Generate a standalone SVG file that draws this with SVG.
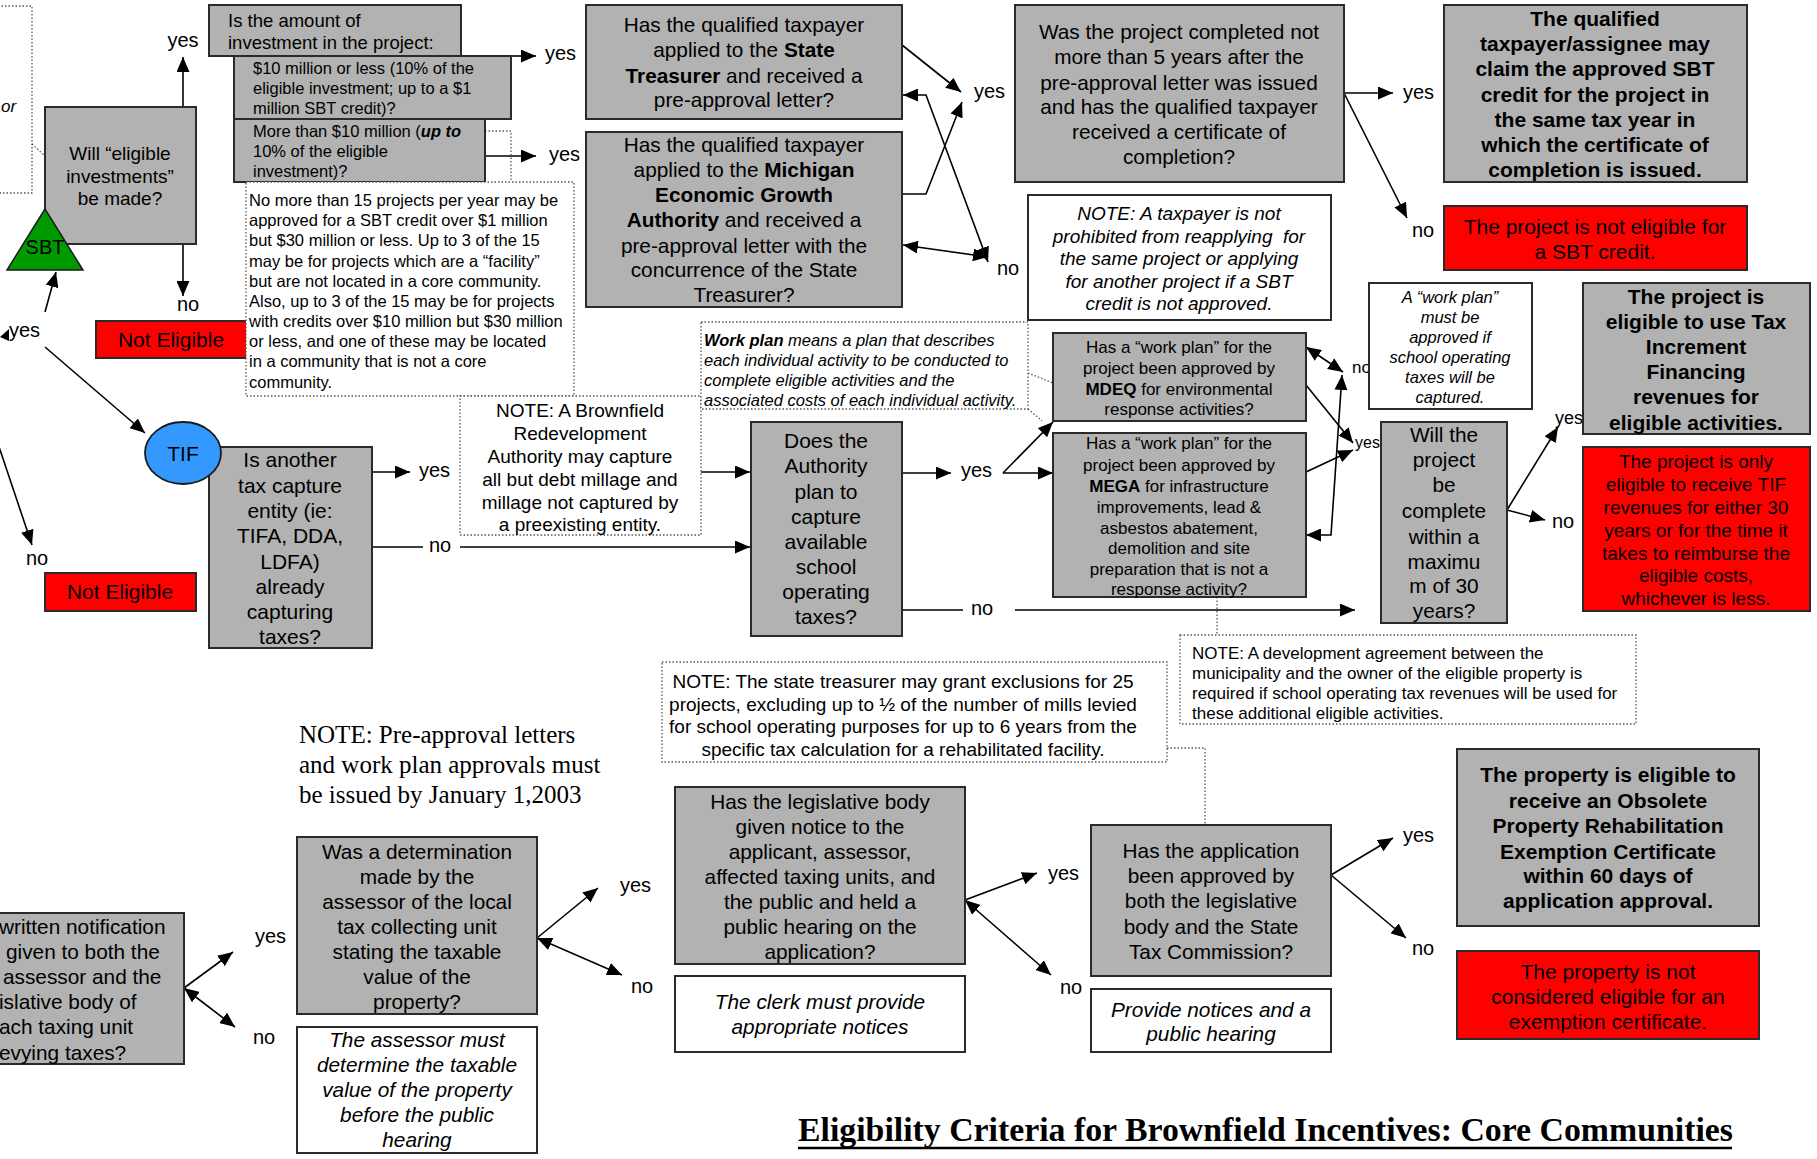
<svg xmlns="http://www.w3.org/2000/svg" width="1817" height="1159" viewBox="0 0 1817 1159">
<style>
.box{fill:#b2b2b2;stroke:#2a2a2a;stroke-width:2}
.red{fill:#ff0000;stroke:#2a2a2a;stroke-width:2}
.wb{fill:#ffffff;stroke:#2a2a2a;stroke-width:2}
.note{fill:#ffffff;stroke:#555;stroke-width:1.3;stroke-dasharray:1.5 2}
.dl{fill:none;stroke:#555;stroke-width:1.3;stroke-dasharray:1.5 2}
.ln{fill:none;stroke:#000;stroke-width:1.6}
.a{marker-end:url(#ah)}
.aa{marker-start:url(#ah);marker-end:url(#ah)}
text{font-family:"Liberation Sans",Arial,Helvetica,sans-serif;fill:#000}
.c{text-anchor:middle}
.i{font-style:italic}
.b{font-weight:bold}
.lbl{font-size:20px}
.f17{font-size:17px}
.f165{font-size:16.5px}
.f19{font-size:19px}
.f21{font-size:21px}
.f208{font-size:20.8px}
.serif{font-family:"Liberation Serif","Times New Roman",serif}
</style>
<defs>
<marker id="ah" markerWidth="15" markerHeight="13" refX="15" refY="6.5" orient="auto-start-reverse" markerUnits="userSpaceOnUse"><path d="M0,0 L15,6.5 L0,13 z" fill="#000"/></marker>
</defs>

<g id="connectors">
<line class="ln a" x1="183" y1="107" x2="183" y2="57"/>
<line class="ln a" x1="183" y1="243" x2="183" y2="296"/>
<line class="ln a" x1="45" y1="312" x2="56" y2="272"/>
<line class="ln a" x1="45" y1="347" x2="145" y2="433"/>
<line class="ln a" x1="-10" y1="420" x2="32" y2="545"/>
<polygon points="0,337 9,329 9,341" fill="#000"/>
<line class="ln a" x1="511" y1="56" x2="536" y2="56"/>
<line class="ln a" x1="485" y1="156" x2="536" y2="156"/>
<line class="ln a" x1="902" y1="45" x2="961" y2="92"/>
<polyline class="ln a" points="902,194 926,194 962,102"/>
<polyline class="ln aa" points="903,95 926,95 988,262"/>
<line class="ln aa" x1="903" y1="245" x2="988" y2="257"/>
<line class="ln a" x1="1344" y1="93" x2="1393" y2="93"/>
<line class="ln a" x1="1344" y1="93" x2="1407" y2="218"/>
<line class="ln a" x1="372" y1="472" x2="410" y2="472"/>
<line class="ln a" x1="701" y1="472" x2="750" y2="472"/>
<line class="ln" x1="372" y1="547" x2="423" y2="547"/>
<line class="ln a" x1="460" y1="547" x2="750" y2="547"/>
<line class="ln a" x1="902" y1="473" x2="951" y2="473"/>
<line class="ln a" x1="1003" y1="473" x2="1053" y2="422"/>
<line class="ln a" x1="1003" y1="473" x2="1053" y2="473"/>
<line class="ln" x1="902" y1="610" x2="963" y2="610"/>
<line class="ln a" x1="1015" y1="610" x2="1355" y2="610"/>
<line class="ln aa" x1="1306" y1="347" x2="1343" y2="372"/>
<polyline class="ln aa" points="1306,535 1331,535 1342,375"/>
<line class="ln a" x1="1306" y1="385" x2="1353" y2="443"/>
<line class="ln a" x1="1306" y1="472" x2="1353" y2="450"/>
<line class="ln a" x1="1507" y1="510" x2="1558" y2="427"/>
<line class="ln a" x1="1507" y1="510" x2="1545" y2="520"/>
<line class="ln a" x1="184" y1="988" x2="233" y2="952"/>
<line class="ln aa" x1="184" y1="988" x2="235" y2="1027"/>
<line class="ln a" x1="537" y1="938" x2="598" y2="888"/>
<line class="ln aa" x1="537" y1="938" x2="622" y2="975"/>
<line class="ln a" x1="965" y1="900" x2="1037" y2="873"/>
<line class="ln aa" x1="965" y1="900" x2="1051" y2="975"/>
<line class="ln a" x1="1331" y1="875" x2="1393" y2="838"/>
<line class="ln a" x1="1331" y1="875" x2="1406" y2="938"/>
<!-- dotted note connectors -->
<line class="dl" x1="32" y1="144" x2="45" y2="156"/>
<polyline class="dl" points="485,131 511,131 511,182"/>
<line class="dl" x1="1028" y1="373" x2="1053" y2="383"/>
<line class="dl" x1="1028" y1="409" x2="1042" y2="421"/>
<line class="dl" x1="1217" y1="597" x2="1217" y2="635"/>
<polyline class="dl" points="1167,748 1205,748 1205,825"/>
<!-- labels -->
<text class="lbl c" x="183" y="47">yes</text>
<text class="lbl c" x="188" y="311">no</text>
<text class="lbl" x="9" y="337">yes</text>
<text class="lbl c" x="37" y="565">no</text>
<text class="lbl" x="545" y="60">yes</text>
<text class="lbl" x="549" y="161">yes</text>
<text class="lbl" x="974" y="98">yes</text>
<text class="lbl" x="997" y="275">no</text>
<text class="lbl" x="1403" y="99">yes</text>
<text class="lbl" x="1412" y="237">no</text>
<text class="lbl" x="419" y="477">yes</text>
<text class="lbl" x="429" y="552">no</text>
<text class="lbl" x="961" y="477">yes</text>
<text class="lbl" x="971" y="615">no</text>
<text class="f17" x="1352" y="373">no</text>
<text style="font-size:16px" x="1355" y="448">yes</text>
<text style="font-size:18px" x="1555" y="424">yes</text>
<text class="lbl" x="1552" y="528">no</text>
<text class="lbl" x="255" y="943">yes</text>
<text class="lbl" x="253" y="1044">no</text>
<text class="lbl" x="620" y="892">yes</text>
<text class="lbl" x="631" y="993">no</text>
<text class="lbl" x="1048" y="880">yes</text>
<text class="lbl" x="1060" y="994">no</text>
<text class="lbl" x="1403" y="842">yes</text>
<text class="lbl" x="1412" y="955">no</text>
</g>

<g id="note-left">
<polyline class="dl" points="-2,6 32,6 32,193 -2,193"/>
<text class="i f17" x="1" y="112">or</text>
</g>

<g id="will">
<rect class="box" x="45" y="107" width="151" height="137"/>
<text class="c f19" x="120" y="160">Will “eligible</text>
<text class="c f19" x="120" y="183">investments”</text>
<text class="c f19" x="120" y="205">be made?</text>
</g>

<g id="sbt">
<polygon points="45,209 7,270 83,270" fill="#009900" stroke="#1a1a1a" stroke-width="1.5"/>
<text class="c lbl" x="45" y="254">SBT</text>
</g>

<g id="not-eligible-1">
<rect class="red" x="96" y="321" width="151" height="37"/>
<text class="c" style="font-size:21px" x="171" y="347">Not Eligible</text>
</g>

<g id="amount">
<rect class="box" x="209" y="5" width="252" height="51"/>
<text style="font-size:18.5px" x="228" y="27">Is the amount of</text>
<text style="font-size:18.5px" x="228" y="49">investment in the project:</text>
</g>

<g id="ten-or-less">
<rect class="box" x="234" y="56" width="277" height="63"/>
<text class="f165" x="253" y="74">$10 million or less (10% of the</text>
<text class="f165" x="253" y="94">eligible investment; up to a $1</text>
<text class="f165" x="253" y="114">million SBT credit)?</text>
</g>

<g id="more-than-ten">
<rect class="box" x="234" y="119" width="251" height="63"/>
<text class="f165" x="253" y="137">More than $10 million (<tspan class="b i">up to</tspan></text>
<text class="f165" x="253" y="157">10% of the eligible</text>
<text class="f165" x="253" y="177">investment)?</text>
</g>

<g id="note-15-projects">
<rect class="note" x="246" y="182" width="328" height="214"/>
<text class="f165" x="249" y="206">No more than 15 projects per year may be</text>
<text class="f165" x="249" y="226">approved for a SBT credit over $1 million</text>
<text class="f165" x="249" y="246">but $30 million or less. Up to 3 of the 15</text>
<text class="f165" x="249" y="267">may be for projects which are a “facility”</text>
<text class="f165" x="249" y="287">but are not located in a core community.</text>
<text class="f165" x="249" y="307">Also, up to 3 of the 15 may be for projects</text>
<text class="f165" x="249" y="327">with credits over $10 million but $30 million</text>
<text class="f165" x="249" y="347">or less, and one of these may be located</text>
<text class="f165" x="249" y="367">in a community that is not a core</text>
<text class="f165" x="249" y="388">community.</text>
</g>

<g id="note-brownfield">
<rect class="note" x="460" y="396" width="241" height="139"/>
<text class="c f19" x="580" y="417">NOTE: A Brownfield</text>
<text class="c f19" x="580" y="440">Redevelopment</text>
<text class="c f19" x="580" y="463">Authority may capture</text>
<text class="c f19" x="580" y="486">all but debt millage and</text>
<text class="c f19" x="580" y="509">millage not captured by</text>
<text class="c f19" x="580" y="531">a preexisting entity.</text>
</g>

<g id="note-workplan">
<rect class="note" x="701" y="322" width="327" height="87"/>
<text class="i f165" x="704" y="346"><tspan class="b">Work plan</tspan> means a plan that describes</text>
<text class="i f165" x="704" y="366">each individual activity to be conducted to</text>
<text class="i f165" x="704" y="386">complete eligible activities and the</text>
<text class="i f165" x="704" y="406">associated costs of each individual activity.</text>
</g>

<g id="state-treasurer">
<rect class="box" x="586" y="5" width="316" height="114"/>
<text class="c f208" x="744" y="32">Has the qualified taxpayer</text>
<text class="c f208" x="744" y="57">applied to the <tspan class="b">State</tspan></text>
<text class="c f208" x="744" y="83"><tspan class="b">Treasurer</tspan> and received a</text>
<text class="c f208" x="744" y="107">pre-approval letter?</text>
</g>

<g id="mega-applied">
<rect class="box" x="586" y="132" width="316" height="175"/>
<text class="c f208" x="744" y="152">Has the qualified taxpayer</text>
<text class="c f208" x="744" y="177">applied to the <tspan class="b">Michigan</tspan></text>
<text class="c f208 b" x="744" y="202">Economic Growth</text>
<text class="c f208" x="744" y="227"><tspan class="b">Authority</tspan> and received a</text>
<text class="c f208" x="744" y="253">pre-approval letter with the</text>
<text class="c f208" x="744" y="277">concurrence of the State</text>
<text class="c f208" x="744" y="302">Treasurer?</text>
</g>

<g id="completed">
<rect class="box" x="1015" y="5" width="329" height="177"/>
<text class="c f208" x="1179" y="39">Was the project completed not</text>
<text class="c f208" x="1179" y="64">more than 5 years after the</text>
<text class="c f208" x="1179" y="90">pre-approval letter was issued</text>
<text class="c f208" x="1179" y="114">and has the qualified taxpayer</text>
<text class="c f208" x="1179" y="139">received a certificate of</text>
<text class="c f208" x="1179" y="164">completion?</text>
</g>

<g id="claim-credit">
<rect class="box" x="1444" y="5" width="303" height="177"/>
<text class="c f21 b" x="1595" y="26">The qualified</text>
<text class="c f21 b" x="1595" y="51">taxpayer/assignee may</text>
<text class="c f21 b" x="1595" y="76">claim the approved SBT</text>
<text class="c f21 b" x="1595" y="102">credit for the project in</text>
<text class="c f21 b" x="1595" y="127">the same tax year in</text>
<text class="c f21 b" x="1595" y="152">which the certificate of</text>
<text class="c f21 b" x="1595" y="177">completion is issued.</text>
</g>

<g id="not-eligible-sbt">
<rect class="red" x="1444" y="206" width="303" height="64"/>
<text class="c f21" x="1595" y="234">The project is not eligible for</text>
<text class="c f21" x="1595" y="259">a SBT credit.</text>
</g>

<g id="note-reapply">
<rect class="wb" x="1028" y="195" width="303" height="125"/>
<text class="c i f19" x="1179" y="220">NOTE: A taxpayer is not</text>
<text class="c i f19" x="1179" y="243">prohibited from reapplying&#160; for</text>
<text class="c i f19" x="1179" y="265">the same project or applying</text>
<text class="c i f19" x="1179" y="288">for another project if a SBT</text>
<text class="c i f19" x="1179" y="310">credit is not approved.</text>
</g>

<g id="mdeq">
<rect class="box" x="1053" y="333" width="253" height="88"/>
<text class="c f17" x="1179" y="353">Has a “work plan” for the</text>
<text class="c f17" x="1179" y="374">project been approved by</text>
<text class="c f17" x="1179" y="395"><tspan class="b">MDEQ</tspan> for environmental</text>
<text class="c f17" x="1179" y="415">response activities?</text>
</g>

<g id="mega">
<rect class="box" x="1053" y="433" width="253" height="164"/>
<text class="c f17" x="1179" y="449">Has a “work plan” for the</text>
<text class="c f17" x="1179" y="471">project been approved by</text>
<text class="c f17" x="1179" y="492"><tspan class="b">MEGA</tspan> for infrastructure</text>
<text class="c f17" x="1179" y="513">improvements, lead &amp;</text>
<text class="c f17" x="1179" y="534">asbestos abatement,</text>
<text class="c f17" x="1179" y="554">demolition and site</text>
<text class="c f17" x="1179" y="575">preparation that is not a</text>
<text class="c f17" x="1179" y="595">response activity?</text>
</g>

<g id="note-workplan-approved">
<rect class="wb" x="1369" y="283" width="163" height="126"/>
<text class="c i f165" x="1450" y="303">A “work plan”</text>
<text class="c i f165" x="1450" y="323">must be</text>
<text class="c i f165" x="1450" y="343">approved if</text>
<text class="c i f165" x="1450" y="363">school operating</text>
<text class="c i f165" x="1450" y="383">taxes will be</text>
<text class="c i f165" x="1450" y="403">captured.</text>
</g>

<g id="thirty-years">
<rect class="box" x="1381" y="422" width="126" height="201"/>
<text class="c f208" x="1444" y="442">Will the</text>
<text class="c f208" x="1444" y="467">project</text>
<text class="c f208" x="1444" y="492">be</text>
<text class="c f208" x="1444" y="518">complete</text>
<text class="c f208" x="1444" y="544">within a</text>
<text class="c f208" x="1444" y="569">maximu</text>
<text class="c f208" x="1444" y="593">m of 30</text>
<text class="c f208" x="1444" y="618">years?</text>
</g>

<g id="tif-eligible">
<rect class="box" x="1583" y="283" width="227" height="151"/>
<text class="c f21 b" x="1696" y="304">The project is</text>
<text class="c f21 b" x="1696" y="329">eligible to use Tax</text>
<text class="c f21 b" x="1696" y="354">Increment</text>
<text class="c f21 b" x="1696" y="379">Financing</text>
<text class="c f21 b" x="1696" y="404">revenues for</text>
<text class="c f21 b" x="1696" y="430">eligible activities.</text>
</g>

<g id="tif-limited">
<rect class="red" x="1583" y="447" width="227" height="164"/>
<text class="c f19" x="1696" y="468">The project is only</text>
<text class="c f19" x="1696" y="491">eligible to receive TIF</text>
<text class="c f19" x="1696" y="514">revenues for either 30</text>
<text class="c f19" x="1696" y="537">years or for the time it</text>
<text class="c f19" x="1696" y="560">takes to reimburse the</text>
<text class="c f19" x="1696" y="582">eligible costs,</text>
<text class="c f19" x="1696" y="605">whichever is less.</text>
</g>

<g id="another-entity">
<rect class="box" x="209" y="447" width="163" height="201"/>
<text class="c f21" x="290" y="467">Is another</text>
<text class="c f21" x="290" y="493">tax capture</text>
<text class="c f21" x="290" y="518">entity (ie:</text>
<text class="c f21" x="290" y="543">TIFA, DDA,</text>
<text class="c f21" x="290" y="569">LDFA)</text>
<text class="c f21" x="290" y="594">already</text>
<text class="c f21" x="290" y="619">capturing</text>
<text class="c f21" x="290" y="644">taxes?</text>
</g>

<g id="tif">
<ellipse cx="183" cy="453" rx="38" ry="31" fill="#3399ff" stroke="#1a1a1a" stroke-width="1.8"/>
<text class="c f21" x="183" y="461">TIF</text>
</g>

<g id="not-eligible-2">
<rect class="red" x="45" y="573" width="151" height="38"/>
<text class="c" style="font-size:21px" x="120" y="599">Not Eligible</text>
</g>

<g id="authority-capture">
<rect class="box" x="751" y="422" width="151" height="214"/>
<text class="c f21" x="826" y="448">Does the</text>
<text class="c f21" x="826" y="473">Authority</text>
<text class="c f21" x="826" y="499">plan to</text>
<text class="c f21" x="826" y="524">capture</text>
<text class="c f21" x="826" y="549">available</text>
<text class="c f21" x="826" y="574">school</text>
<text class="c f21" x="826" y="599">operating</text>
<text class="c f21" x="826" y="624">taxes?</text>
</g>

<g id="note-development">
<rect class="note" x="1180" y="635" width="456" height="89"/>
<text class="f17" x="1192" y="659">NOTE: A development agreement between the</text>
<text class="f17" x="1192" y="679">municipality and the owner of the eligible property is</text>
<text class="f17" x="1192" y="699">required if school operating tax revenues will be used for</text>
<text class="f17" x="1192" y="719">these additional eligible activities.</text>
</g>

<g id="note-exclusions">
<rect class="note" x="662" y="662" width="505" height="100"/>
<text class="c f19" x="903" y="688">NOTE: The state treasurer may grant exclusions for 25</text>
<text class="c f19" x="903" y="711">projects, excluding up to ½ of the number of mills levied</text>
<text class="c f19" x="903" y="733">for school operating purposes for up to 6 years from the</text>
<text class="c f19" x="903" y="756">specific tax calculation for a rehabilitated facility.</text>
</g>

<g id="note-preapproval">
<text class="serif" style="font-size:25px" x="299" y="743">NOTE: Pre-approval letters</text>
<text class="serif" style="font-size:25px" x="299" y="773">and work plan approvals must</text>
<text class="serif" style="font-size:25px" x="299" y="803">be issued by January 1,2003</text>
</g>

<g id="written-notification">
<rect class="box" x="-20" y="913" width="204" height="151"/>
<text class="f208" x="-1" y="934">written notification</text>
<text class="f208" x="6" y="959">given to both the</text>
<text class="f208" x="3" y="984">assessor and the</text>
<text class="f208" x="-1" y="1009">islative body of</text>
<text class="f208" x="-1" y="1034">ach taxing unit</text>
<text class="f208" x="-1" y="1060">evying taxes?</text>
</g>

<g id="determination">
<rect class="box" x="297" y="837" width="240" height="177"/>
<text class="c f208" x="417" y="859">Was a determination</text>
<text class="c f208" x="417" y="884">made by the</text>
<text class="c f208" x="417" y="909">assessor of the local</text>
<text class="c f208" x="417" y="934">tax collecting unit</text>
<text class="c f208" x="417" y="959">stating the taxable</text>
<text class="c f208" x="417" y="984">value of the</text>
<text class="c f208" x="417" y="1009">property?</text>
</g>

<g id="assessor-must">
<rect class="wb" x="297" y="1027" width="240" height="126"/>
<text class="c i f208" x="417" y="1047">The assessor must</text>
<text class="c i f208" x="417" y="1072">determine the taxable</text>
<text class="c i f208" x="417" y="1097">value of the property</text>
<text class="c i f208" x="417" y="1122">before the public</text>
<text class="c i f208" x="417" y="1147">hearing</text>
</g>

<g id="public-hearing">
<rect class="box" x="675" y="787" width="290" height="177"/>
<text class="c f208" x="820" y="809">Has the legislative body</text>
<text class="c f208" x="820" y="834">given notice to the</text>
<text class="c f208" x="820" y="859">applicant, assessor,</text>
<text class="c f208" x="820" y="884">affected taxing units, and</text>
<text class="c f208" x="820" y="909">the public and held a</text>
<text class="c f208" x="820" y="934">public hearing on the</text>
<text class="c f208" x="820" y="959">application?</text>
</g>

<g id="clerk">
<rect class="wb" x="675" y="976" width="290" height="76"/>
<text class="c i f208" x="820" y="1009">The clerk must provide</text>
<text class="c i f208" x="820" y="1034">appropriate notices</text>
</g>

<g id="approved-application">
<rect class="box" x="1091" y="825" width="240" height="151"/>
<text class="c f208" x="1211" y="858">Has the application</text>
<text class="c f208" x="1211" y="883">been approved by</text>
<text class="c f208" x="1211" y="908">both the legislative</text>
<text class="c f208" x="1211" y="934">body and the State</text>
<text class="c f208" x="1211" y="959">Tax Commission?</text>
</g>

<g id="provide-notices">
<rect class="wb" x="1091" y="989" width="240" height="63"/>
<text class="c i f208" x="1211" y="1017">Provide notices and a</text>
<text class="c i f208" x="1211" y="1041">public hearing</text>
</g>

<g id="opre-eligible">
<rect class="box" x="1457" y="749" width="302" height="177"/>
<text class="c f21 b" x="1608" y="782">The property is eligible to</text>
<text class="c f21 b" x="1608" y="808">receive an Obsolete</text>
<text class="c f21 b" x="1608" y="833">Property Rehabilitation</text>
<text class="c f21 b" x="1608" y="859">Exemption Certificate</text>
<text class="c f21 b" x="1608" y="883">within 60 days of</text>
<text class="c f21 b" x="1608" y="908">application approval.</text>
</g>

<g id="opre-not-eligible">
<rect class="red" x="1457" y="951" width="302" height="88"/>
<text class="c f21" x="1608" y="979">The property is not</text>
<text class="c f21" x="1608" y="1004">considered eligible for an</text>
<text class="c f21" x="1608" y="1029">exemption certificate.</text>
</g>

<g id="title">
<text class="serif b" style="font-size:33.8px" x="798" y="1141">Eligibility Criteria for Brownfield Incentives: Core Communities</text>
<line x1="798" y1="1148" x2="1732" y2="1148" stroke="#000" stroke-width="2.5"/>
</g>
</svg>
